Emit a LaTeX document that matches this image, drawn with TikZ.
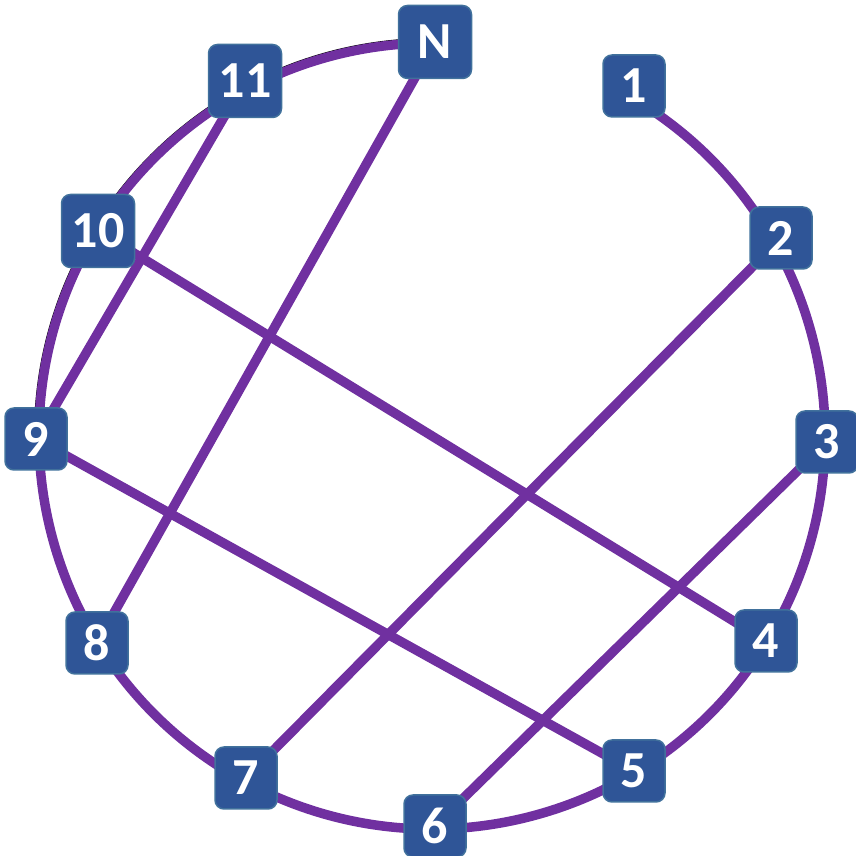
\documentclass[tikz,border=0pt]{standalone}
\usepackage{fontspec}
\setmainfont{Carlito}
\definecolor{boxblue}{HTML}{2F5597}
\definecolor{boxedge}{HTML}{41719C}
\definecolor{ringpurple}{HTML}{7030A0}
\begin{document}
\begin{tikzpicture}[x=1pt,y=1pt,
  numbox/.style={draw=boxedge, line width=1.5pt, fill=boxblue, rounded corners=9pt,
    minimum width=62pt, minimum height=62pt, inner sep=0pt,
    text=white, font=\bfseries\fontsize{52}{52}\selectfont},
  bigbox/.style={numbox, minimum width=73pt, minimum height=73pt},
  ring/.style={draw=ringpurple, line width=9.5pt},
  chord/.style={draw=ringpurple, line width=9.5pt}]
\useasboundingbox (0,0) rectangle (856,856);
\coordinate (C) at (432,420);
% ring
\draw[black, line width=1.2pt] (C) ++(180:397.5) arc (180:90:397.5);
\draw[ring] (C) ++(60:393) arc (60:-270:393);
% node positions
\path
  (435,814) coordinate (pN)
  (634,770) coordinate (p1)
  (781,618) coordinate (p2)
  (827,414) coordinate (p3)
  (766,215) coordinate (p4)
  (634,85)  coordinate (p5)
  (435,30)  coordinate (p6)
  (246,78)  coordinate (p7)
  (97,213)  coordinate (p8)
  (36,417)  coordinate (p9)
  (98,625)  coordinate (p10)
  (245,775) coordinate (p11);
% chords
\draw[chord] (p11) -- (p9);
\draw[chord] (pN) -- (p8);
\draw[chord] (p10) -- (p4);
\draw[chord] (p9) -- (p5);
\draw[chord] (p2) -- (p7);
\draw[chord] (p3) -- (p6);
% boxes
\node[bigbox] (N) at (pN) {N};
\node[numbox] (n1) at (p1) {1};
\node[numbox] (n2) at (p2) {2};
\node[numbox] (n3) at (p3) {3};
\node[numbox] (n4) at (p4) {4};
\node[numbox] (n5) at (p5) {5};
\node[numbox] (n6) at (p6) {6};
\node[numbox] (n7) at (p7) {7};
\node[numbox] (n8) at (p8) {8};
\node[numbox] (n9) at (p9) {9};
\node[bigbox] (n10) at (p10) {10};
\node[bigbox] (n11) at (p11) {11};
\end{tikzpicture}
\end{document}
